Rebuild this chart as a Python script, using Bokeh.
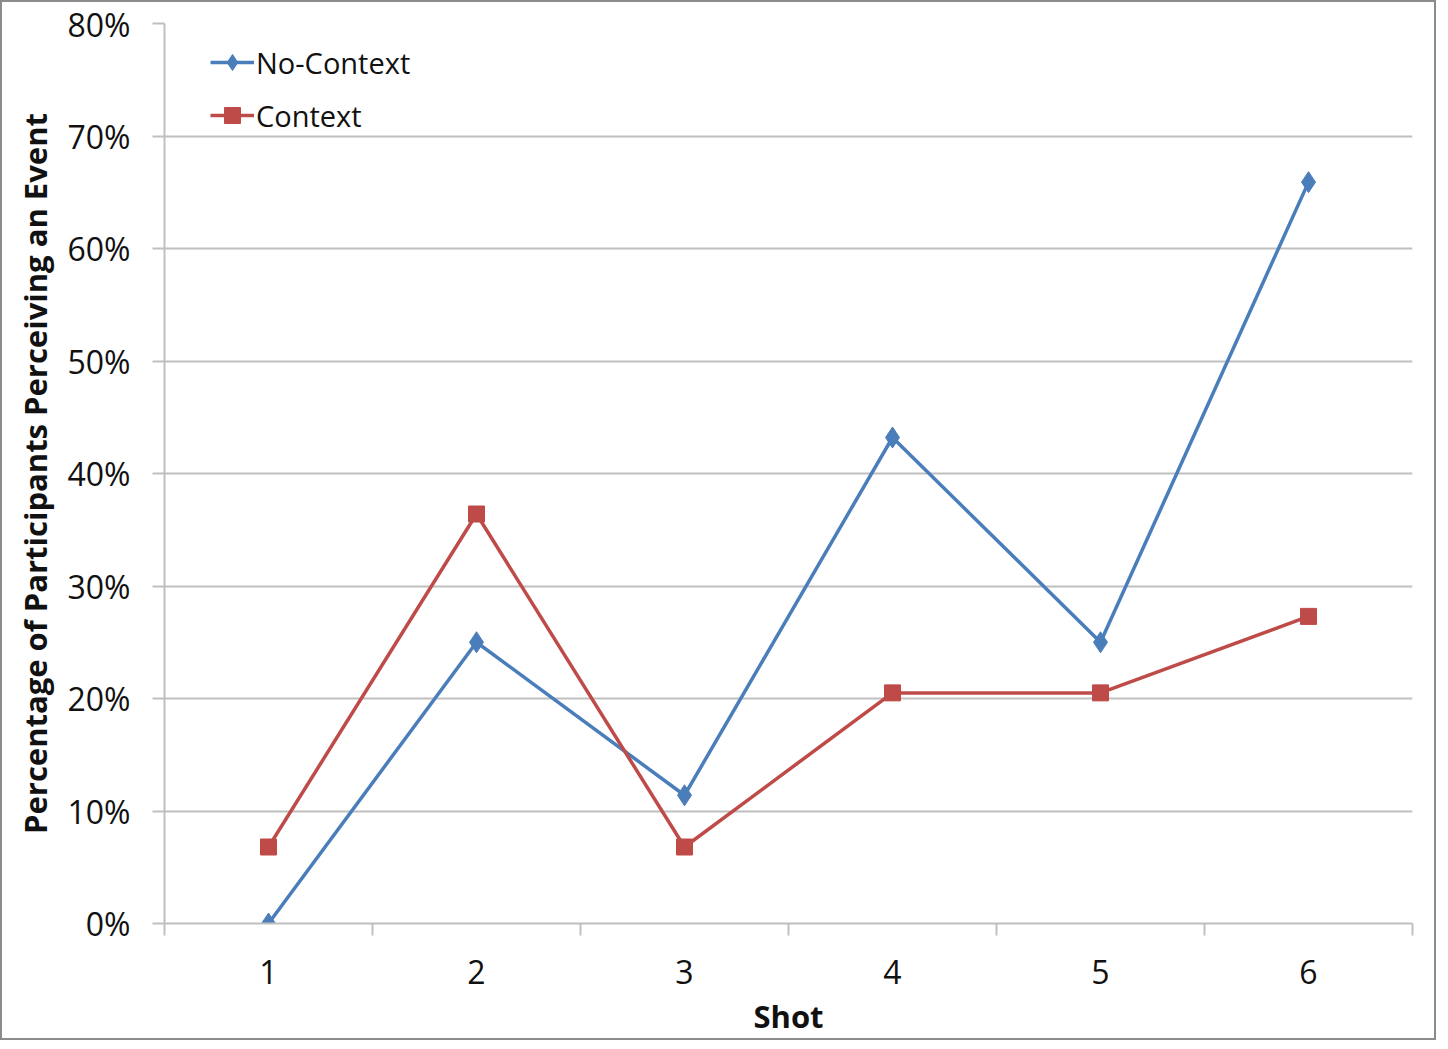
from bokeh.plotting import figure
from bokeh.models import FixedTicker, NumeralTickFormatter, Range1d, Legend, LegendItem
from bokeh.embed import file_html
from bokeh.resources import INLINE

shots = [1, 2, 3, 4, 5, 6]
no_context = [0.0, 0.25, 0.114, 0.432, 0.25, 0.659]
context = [0.068, 0.364, 0.068, 0.205, 0.205, 0.273]
y_ticks = [0, 0.1, 0.2, 0.3, 0.4, 0.5, 0.6, 0.7, 0.8]

FONT = "Open Sans"
BLUE = "#4a7ebb"
RED = "#be4b48"
GRID = "#bfbfbf"

p = figure(width=1436, height=1040, output_backend="svg", toolbar_location=None,
           x_range=Range1d(0.5, 6.5), y_range=Range1d(0, 0.8),
           min_border_left=162, min_border_right=26, min_border_top=21, min_border_bottom=119)
p.styles = {"border": "2px solid #8c8c8c", "box-sizing": "border-box"}
p.outline_line_color = None
p.background_fill_color = "white"
p.border_fill_color = "white"

# axes
p.xaxis.ticker = FixedTicker(ticks=shots, minor_ticks=[0.5, 1.5, 2.5, 3.5, 4.5, 5.5, 6.5])
p.xaxis.major_tick_out = 0
p.xaxis.major_tick_in = 0
p.xaxis.minor_tick_out = 12
p.xaxis.minor_tick_in = 0
p.xaxis.minor_tick_line_color = GRID
p.xaxis.minor_tick_line_width = 2
p.xaxis.axis_line_color = GRID
p.xaxis.axis_line_width = 2
p.xaxis.major_label_standoff = 24
p.xaxis.axis_label = "Shot"
p.xaxis.axis_label_standoff = 8

p.yaxis.ticker = FixedTicker(ticks=y_ticks)
p.yaxis.formatter = NumeralTickFormatter(format="0%")
p.yaxis.major_tick_out = 12
p.yaxis.major_tick_in = 0
p.yaxis.major_tick_line_color = GRID
p.yaxis.major_tick_line_width = 2
p.yaxis.minor_tick_line_color = None
p.yaxis.axis_line_color = GRID
p.yaxis.axis_line_width = 2
p.yaxis.major_label_standoff = 22
p.yaxis.axis_label = "Percentage of Participants Perceiving an Event"
p.yaxis.axis_label_standoff = 8

for ax in (p.xaxis[0], p.yaxis[0]):
    ax.major_label_text_font = FONT
    ax.major_label_text_font_size = "32px"
    ax.major_label_text_color = "#111111"
    ax.axis_label_text_font = FONT
    ax.axis_label_text_font_size = "31px"
    ax.axis_label_text_font_style = "bold"
    ax.axis_label_text_color = "#111111"

p.xgrid.grid_line_color = None
p.ygrid.grid_line_color = GRID
p.ygrid.grid_line_width = 2

# series
l1 = p.line(shots, no_context, line_color=BLUE, line_width=3.5)
s1 = p.scatter(shots, no_context, marker="diamond", size=21, fill_color=BLUE, line_color=BLUE)
l2 = p.line(shots, context, line_color=RED, line_width=3.5)
s2 = p.scatter(shots, context, marker="square", size=16, fill_color=RED, line_color=RED)

legend = Legend(items=[LegendItem(label="No-Context", renderers=[l1, s1]),
                       LegendItem(label="Context", renderers=[l2, s2])],
                location=(46, 788), margin=0, padding=0, spacing=13,
                glyph_width=44, glyph_height=40, label_height=40, label_standoff=2,
                label_text_font=FONT, label_text_font_size="29px", label_text_color="#111111",
                border_line_color=None, background_fill_alpha=0)
p.add_layout(legend)

open("out.html", "w").write(file_html(p, INLINE))
